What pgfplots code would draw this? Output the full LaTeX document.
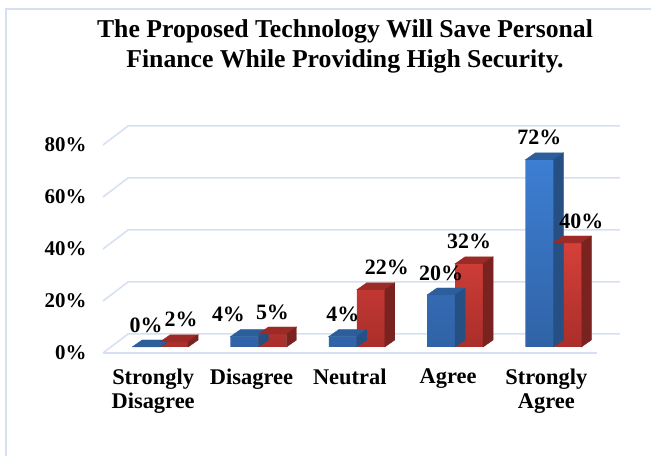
\documentclass[border=0pt]{standalone}
\usepackage{pgfplots}
\usepackage{pgfplotstable}
\pgfplotsset{compat=1.18}
\usepackage{fontspec}
\setmainfont{Liberation Serif}
\definecolor{gridc}{HTML}{D5E0F2}
\definecolor{bluehi}{HTML}{3D7ED2}
\definecolor{bluelo}{HTML}{3063A6}
\definecolor{bluetop}{HTML}{2D5E9C}
\definecolor{blueside}{HTML}{264F84}
\definecolor{redhi}{HTML}{D5403A}
\definecolor{redlo}{HTML}{AA2E2A}
\definecolor{redtop}{HTML}{9C2B27}
\definecolor{redside}{HTML}{7A2220}
\pgfdeclareplotmark{nothing}{}

\pgfplotstableread{
x v lx
0 0 0
1 4 -16
2 4 0
3 20 0
4 72 0
}\bluedata
\pgfplotstableread{
x v lx
0 2 7
1 5 0
2 22 16
3 32 0
4 40 14
}\reddata

\begin{document}
\begin{tikzpicture}[x=1bp,y=1bp]
\path[use as bounding box] (0,0) rectangle (651,456);
\draw[gridc, line width=1.2bp] (6,0) -- (6,447) -- (651,447);
\node[font=\bfseries\fontsize{25.8}{30}\selectfont, align=center] at (345,410)
  {The Proposed Technology Will Save Personal\\Finance While Providing High Security.};
\begin{axis}[
  at={(153.15bp,109bp)}, anchor=origin,
  scale only axis, width=491.5bp, height=208bp,
  xmin=-0.5, xmax=4.5, ymin=0, ymax=80,
  clip=false,
  axis line style={draw=none},
  tick style={draw=none},
  xtick={0,1,2,3,4},
  xticklabels={{Strongly\\Disagree},Disagree,Neutral,Agree,{Strongly\\Agree}},
  ytick={0,20,40,60,80},
  yticklabels={0\%,20\%,40\%,60\%,80\%},
  yticklabel style={font=\bfseries\fontsize{21}{25}\selectfont, anchor=east, xshift=-14bp, yshift=-6bp},
  xticklabel style={font=\bfseries\fontsize{22.5}{25}\selectfont, align=center, anchor=north, yshift=-18bp},
]
\pgfplotsinvokeforeach{0,20,40,60,80}{
  \draw[gridc, line width=1.5bp] (axis cs:-0.5,#1) ++(-1bp,-6bp) -- ++(25bp,19bp) -- ++(492bp,0bp);
}
\draw[gridc, line width=1.5bp] (axis cs:-0.5,0) ++(-1bp,-6bp) -- ++(494bp,0bp);

% blue front faces
\addplot[ybar, bar width=28bp, bar shift=-7bp, draw=none, top color=bluehi, bottom color=bluelo,
  point meta=y,
  visualization depends on={\thisrow{lx}\as\lx},
  nodes near coords={\pgfmathprintnumber[assume math mode=true]{\pgfplotspointmeta}\%},
  every node near coord/.append style={font=\bfseries\fontsize{22}{25}\selectfont, anchor=center, yshift=22bp, xshift={(\lx-7)*1bp}, text=black}]
  table[x=x,y=v]{\bluedata};
% blue top and side faces
\addplot[only marks, mark=nothing, scatter, point meta=y,
  visualization depends on={\thisrow{v}\as\hv},
  scatter/@pre marker code/.code={%
    \pgfmathsetmacro\H{\hv*2.6}\pgfmathsetmacro\Hb{7-\hv*2.6}%
    \fill[bluetop, x=1bp, y=1bp] (-21,0) -- (7,0) -- (17,7) -- (-11,7) -- cycle;
    \fill[blueside, x=1bp, y=1bp] (7,0) -- (17,7) -- (17,\Hb) -- (7,-\H) -- cycle;
  },
  scatter/@post marker code/.code={}]
  table[x=x,y=v]{\bluedata};
% red front faces
\addplot[ybar, bar width=28bp, bar shift=21bp, draw=none, top color=redhi, bottom color=redlo,
  point meta=y,
  visualization depends on={\thisrow{lx}\as\lx},
  nodes near coords={\pgfmathprintnumber[assume math mode=true]{\pgfplotspointmeta}\%},
  every node near coord/.append style={font=\bfseries\fontsize{22}{25}\selectfont, anchor=center, yshift=22bp, xshift={(\lx+21)*1bp}, text=black}]
  table[x=x,y=v]{\reddata};
% red top and side faces
\addplot[only marks, mark=nothing, scatter, point meta=y,
  visualization depends on={\thisrow{v}\as\hv},
  scatter/@pre marker code/.code={%
    \pgfmathsetmacro\H{\hv*2.6}\pgfmathsetmacro\Hb{7-\hv*2.6}%
    \fill[redtop, x=1bp, y=1bp] (7,0) -- (35,0) -- (45,7) -- (17,7) -- cycle;
    \fill[redside, x=1bp, y=1bp] (35,0) -- (45,7) -- (45,\Hb) -- (35,-\H) -- cycle;
  },
  scatter/@post marker code/.code={}]
  table[x=x,y=v]{\reddata};
\end{axis}
\end{tikzpicture}
\end{document}
